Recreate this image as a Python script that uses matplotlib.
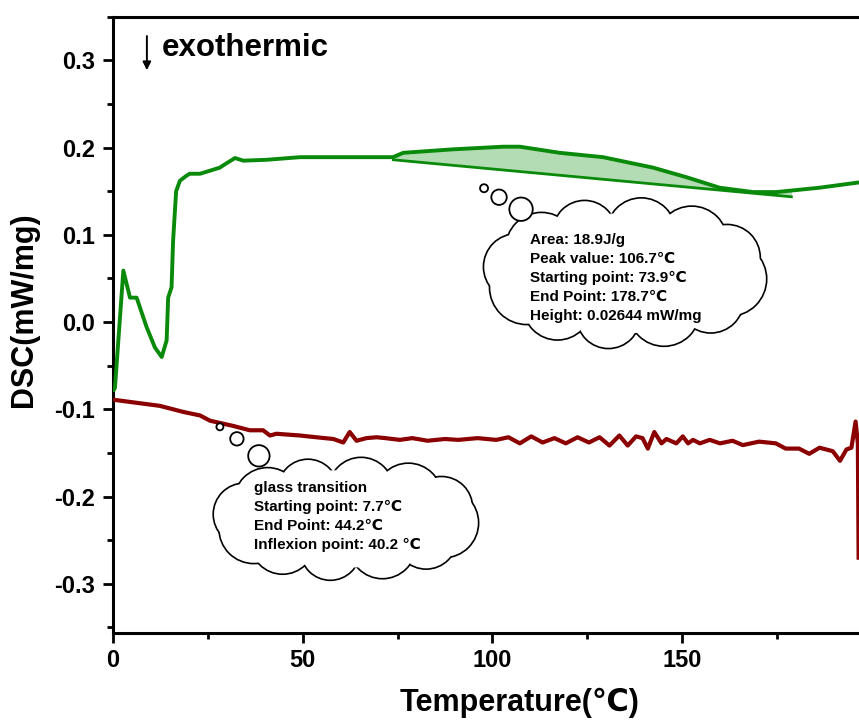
"""DSC curves (heating / cooling) with thought-bubble annotations."""
import numpy as np
import matplotlib

matplotlib.use("Agg")
import matplotlib.pyplot as plt
from matplotlib.patches import Circle, Ellipse

plt.rcParams["font.family"] = ["Liberation Sans", "DejaVu Sans"]
plt.rcParams["font.weight"] = "bold"
plt.rcParams["axes.unicode_minus"] = False

# green trace (first heating)
green_t = [0.3, 0.6, 2.8, 4.55, 6.3, 8.95, 11.1, 12.9, 14.2, 14.6, 15.5, 15.9, 16.7, 17.7,
           19.5, 20.3, 23.0, 28.2, 29.6, 32.2, 34.4, 40.5, 49.3, 58.0, 66.8, 73.8, 76.5,
           89.6, 102.8, 107.2, 117.7, 129.1, 142.3, 151.1, 159.8, 168.6, 174.7, 186.1, 196.4]
green_dsc = [-0.078, -0.075, 0.059, 0.028, 0.028, -0.006, -0.029, -0.040, -0.021, 0.028,
             0.040, 0.093, 0.150, 0.162, 0.168, 0.170, 0.170, 0.177, 0.181, 0.188, 0.185,
             0.186, 0.189, 0.189, 0.189, 0.189, 0.194, 0.198, 0.201, 0.201, 0.194, 0.189,
             0.177, 0.166, 0.154, 0.149, 0.149, 0.154, 0.160]

# red trace
red_t = [0.2, 5.4, 12.4, 18.6, 23.0, 25.6, 31.7, 36.1, 39.6, 41.4, 43.1, 49.3, 53.6, 58.1,
         60.7, 62.4, 64.2, 66.8, 69.5, 71.8, 75.6, 78.9, 82.9, 87.5, 91.0, 96.1, 101.0,
         104.2, 107.2, 110.2, 113.2, 116.3, 119.3, 122.4, 125.4, 128.2, 130.8, 133.4,
         135.6, 137.8, 139.5, 140.9, 142.6, 144.5, 145.8, 148.4, 150.1, 151.5, 152.8,
         154.6, 157.2, 159.9, 163.2, 165.9, 170.2, 174.6, 177.2, 180.7, 183.4, 186.1,
         189.6, 191.5, 193.2, 194.5, 195.6, 196.2, 196.4]
red_dsc = [-0.089, -0.092, -0.096, -0.103, -0.107, -0.113, -0.119, -0.124, -0.124, -0.130,
           -0.128, -0.130, -0.132, -0.134, -0.138, -0.126, -0.136, -0.133, -0.132, -0.133,
           -0.135, -0.133, -0.136, -0.134, -0.135, -0.133, -0.135, -0.132, -0.139, -0.131,
           -0.138, -0.133, -0.139, -0.132, -0.138, -0.132, -0.1415, -0.130, -0.1415,
           -0.131, -0.133, -0.145, -0.126, -0.139, -0.134, -0.139, -0.131, -0.139, -0.135,
           -0.139, -0.135, -0.139, -0.136, -0.141, -0.137, -0.139, -0.145, -0.145, -0.151,
           -0.144, -0.148, -0.159, -0.146, -0.144, -0.114, -0.139, -0.27]

# integration baseline of the exothermic peak
base_t = [73.9, 178.7]
base_dsc = [0.186, 0.1436]

peak_lines = ["Area: 18.9J/g", "Peak value: 106.7\u2103", "Starting point: 73.9\u2103",
              "End Point: 178.7\u2103", "Height: 0.02644 mW/mg"]
glass_lines = ["glass transition", "Starting point: 7.7\u2103", "End Point: 44.2\u2103",
               "Inflexion point: 40.2 \u2103"]

W, H = 859, 722
fig = plt.figure(figsize=(W / 100, H / 100), dpi=100)
ax = fig.add_axes([112.7 / W, 1 - 632.7 / H, (W - 112.7) / W, 616 / H])

green = "#0a8a0a"
red = "#8b0000"
ax.plot(green_t, green_dsc, color=green, lw=2.8, solid_capstyle="round", zorder=3)
ax.plot(red_t, red_dsc, color=red, lw=3.0, zorder=3)
ax.plot(base_t, base_dsc, color=green, lw=2.0, zorder=3)

tt = np.linspace(base_t[0], base_t[1], 300)
curve = np.interp(tt, green_t, green_dsc)
base = np.interp(tt, base_t, base_dsc)
ax.fill_between(tt, curve, base, where=curve >= base, color="#b4dcb4", lw=0, zorder=2)

ax.set_xlim(0, 196.5)
ax.set_ylim(-0.356, 0.349)
ax.set_xticks([0, 50, 100, 150])
ax.set_xticks([25, 75, 125, 175], minor=True)
ax.set_yticks(np.round(np.arange(-0.3, 0.31, 0.1), 1))
ax.set_yticks(np.round(np.arange(-0.35, 0.36, 0.1), 2), minor=True)
ax.yaxis.set_major_formatter(matplotlib.ticker.FormatStrFormatter("%.1f"))
ax.tick_params(which="major", length=7, width=2.0, labelsize=17, direction="out")
ax.tick_params(which="minor", length=4, width=2.0, direction="out")
ax.tick_params(axis="x", pad=5)
ax.tick_params(axis="y", pad=6)
for s in ["left", "bottom", "top"]:
    ax.spines[s].set_linewidth(2.2)
ax.spines["right"].set_visible(False)

ax.set_xlabel("Temperature(\u2103)", fontsize=22, fontweight="bold", va="center")
ax.set_ylabel("DSC(mW/mg)", fontsize=22, fontweight="bold", va="center")
ax.xaxis.set_label_coords((520 - 112.7) / (W - 112.7), (632.7 - 703) / 616)
ax.yaxis.set_label_coords((24 - 112.7) / (W - 112.7), (632.7 - 310) / 616)

ax.annotate("", xy=(9.0, 0.2855), xytext=(9.0, 0.331),
            arrowprops=dict(arrowstyle="-|>", lw=1.4, color="black", mutation_scale=12))
ax.text(13.0, 0.314, "exothermic", fontsize=22.5, fontweight="bold", va="center", ha="left")

# overlay in pixel units (y down) for the thought bubbles
deco = fig.add_axes([0, 0, 1, 1])
deco.set_xlim(0, W)
deco.set_ylim(H, 0)
deco.axis("off")


def to_px(x, y):
    dx, dy = ax.transData.transform((x, y))
    return dx, H - dy


def cloud(cx, cy, hw, hh, bubbles):
    n = 12
    radii = [0.27, 0.24, 0.26, 0.23, 0.25, 0.27, 0.24, 0.26, 0.23, 0.25, 0.26, 0.24]
    lobes = []
    for i in range(n):
        a = 2 * np.pi * i / n + 0.15
        r = radii[i] * hw * 0.95
        r = min(r, hh * 0.62)
        lx = cx + (hw - r) * np.cos(a)
        ly = cy + (hh - r) * np.sin(a)
        lobes.append((lx, ly, r))
    for lx, ly, r in lobes:
        deco.add_patch(Circle((lx, ly), r, fc="white", ec="black", lw=2.4, zorder=5))
    for lx, ly, r in lobes:
        deco.add_patch(Circle((lx, ly), r, fc="white", ec="none", zorder=6))
    deco.add_patch(Ellipse((cx, cy), 2 * hw * 0.85, 2 * hh * 0.8, fc="white", ec="none", zorder=6))
    for bx, by, br in bubbles:
        deco.add_patch(Circle((bx, by), br, fc="white", ec="black", lw=1.3, zorder=7))


# peak bubble, anchored below the exothermic peak
px, py = to_px(134.9, 0.056)
cloud(px, py, 142, 75, [(px - 141, py - 85, 4), (px - 126, py - 76, 7.7), (px - 104, py - 64, 11.7)])
tx, ty = to_px(110.0, 0.0945)
for i, s in enumerate(peak_lines):
    deco.text(tx, ty + 19 * i, s, fontsize=11, fontweight="bold", va="center", ha="left", zorder=8)

# glass transition bubble
gx, gy = to_px(61.4, -0.2255)
cloud(gx, gy, 133, 61, [(gx - 126, gy - 92, 3.5), (gx - 109, gy - 80, 6.7), (gx - 87, gy - 63, 10.7)])
tx, ty = to_px(37.3, -0.190)
for i, s in enumerate(glass_lines):
    deco.text(tx, ty + 19 * i, s, fontsize=11, fontweight="bold", va="center", ha="left", zorder=8)

fig.savefig("out.png", dpi=100)
